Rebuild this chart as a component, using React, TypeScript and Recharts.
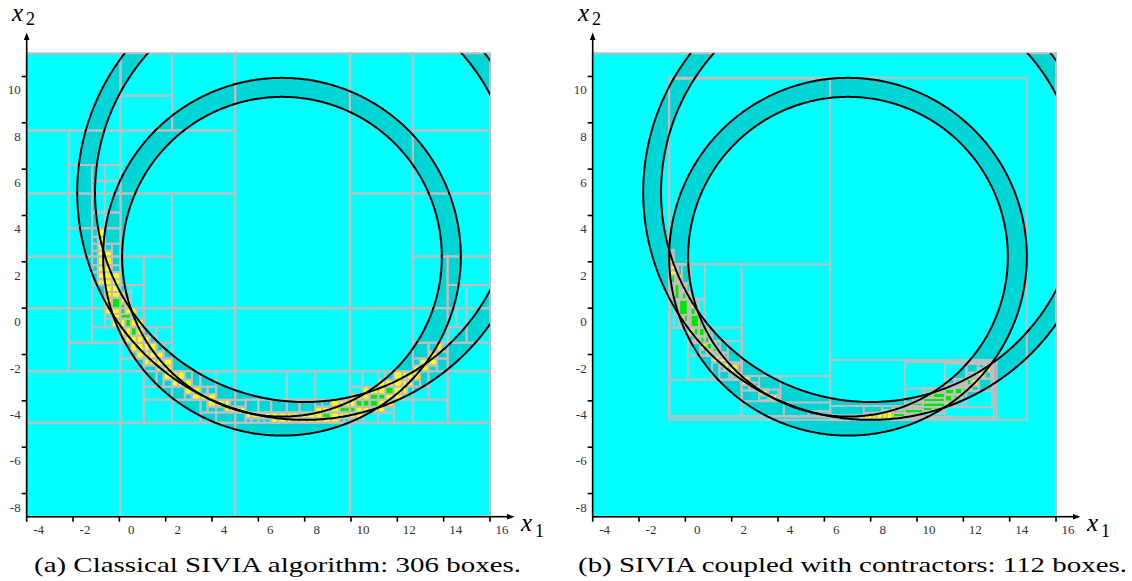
import React from "react";
import { ComposedChart, XAxis, YAxis, ReferenceArea, Scatter } from "recharts";

// window of the paving and axis ticks
const xDomain: [number, number] = [-4, 16];
const yDomain: [number, number] = [-9, 11];
const xTicks = [-4, -2, 0, 2, 4, 6, 8, 10, 12, 14, 16];
const yTicks = [-8, -6, -4, -2, 0, 2, 4, 6, 8, 10];

// the two rings: beacon position and distance interval
const ringCx = [7.02, 8.0];
const ringCy = [2.22, 5.0];
const ringRmin = [6.9, 9.05];
const ringRmax = [7.72, 9.82];

const bisectRatio = 0.45;
const fixpointRatio = 0.1;
const epsilon = 0.4;

const captions = [
  "(a) Classical SIVIA algorithm: 306 boxes.",
  "(b) SIVIA coupled with contractors: 112 boxes.",
];

// layout (pixels)
const PANEL_W = 566;
const H = 581;
const PLOT_L = 26.7;
const PLOT_T = 53.3;
const PLOT_R = 490;
const PLOT_B = 516.7;

const CYAN = "#00ffff";
const RING = "#00d6d6";
const YELLOW = "#ffff00";
const GREEN = "#00e800";
const EDGE = "#bfbfbf";
const FONT = "'Liberation Serif', serif";

type Box = { x0: number; x1: number; y0: number; y1: number };
type Paved = Box & { kind: "out" | "in" | "bnd" };
type Itv = [number, number];

const fullBox = (): Box => ({ x0: xDomain[0], x1: xDomain[1], y0: yDomain[0], y1: yDomain[1] });
const maxDiam = (b: Box) => Math.max(b.x1 - b.x0, b.y1 - b.y0);

function bisect(b: Box): [Box, Box] {
  const w = b.x1 - b.x0;
  const h = b.y1 - b.y0;
  if (w >= h) {
    const m = b.x0 + bisectRatio * w;
    return [{ ...b, x1: m }, { ...b, x0: m }];
  }
  const m = b.y0 + bisectRatio * h;
  return [{ ...b, y1: m }, { ...b, y0: m }];
}

// exact range of the distance to beacon i over a box
function distRange(b: Box, i: number): Itv {
  const cx = ringCx[i], cy = ringCy[i];
  const nx = Math.max(b.x0 - cx, 0, cx - b.x1);
  const ny = Math.max(b.y0 - cy, 0, cy - b.y1);
  const fx = Math.max(Math.abs(b.x0 - cx), Math.abs(b.x1 - cx));
  const fy = Math.max(Math.abs(b.y0 - cy), Math.abs(b.y1 - cy));
  return [Math.hypot(nx, ny), Math.hypot(fx, fy)];
}

function siviaClassic(eps: number): Paved[] {
  const res: Paved[] = [];
  const rec = (b: Box) => {
    let inside = true;
    let outside = false;
    for (let i = 0; i < ringCx.length; i++) {
      const [lo, hi] = distRange(b, i);
      if (hi < ringRmin[i] || lo > ringRmax[i]) outside = true;
      if (lo < ringRmin[i] || hi > ringRmax[i]) inside = false;
    }
    if (outside) res.push({ ...b, kind: "out" });
    else if (inside) res.push({ ...b, kind: "in" });
    else if (maxDiam(b) < eps) res.push({ ...b, kind: "bnd" });
    else {
      const [l, r] = bisect(b);
      rec(l);
      rec(r);
    }
  };
  rec(fullBox());
  return res;
}

// --- forward/backward contractor on  sqrt((x-cx)^2+(y-cy)^2) in [lo,hi]
const meet = (a: Itv, b: Itv): Itv | null => {
  const lo = Math.max(a[0], b[0]);
  const hi = Math.min(a[1], b[1]);
  return lo <= hi ? [lo, hi] : null;
};
const sqrI = (a: Itv): Itv =>
  a[0] >= 0 ? [a[0] * a[0], a[1] * a[1]] : a[1] <= 0 ? [a[1] * a[1], a[0] * a[0]] : [0, Math.max(a[0] * a[0], a[1] * a[1])];
const sqrInv = (y: Itv, x: Itv): Itv | null => {
  const p = Math.sqrt(Math.max(0, y[0]));
  const q = Math.sqrt(Math.max(0, y[1]));
  const pos = meet([p, q], x);
  const neg = meet([-q, -p], x);
  if (pos && neg) return [neg[0], pos[1]];
  return pos || neg;
};

function fwdBwd(b: Box, i: number, lo: number, hi: number): Box | null {
  const cx = ringCx[i], cy = ringCy[i];
  const u: Itv = [b.x0 - cx, b.x1 - cx];
  const v: Itv = [b.y0 - cy, b.y1 - cy];
  const u2 = sqrI(u);
  const v2 = sqrI(v);
  const s: Itv = [u2[0] + v2[0], u2[1] + v2[1]];
  const d = meet([Math.sqrt(s[0]), Math.sqrt(s[1])], [lo, hi]);
  if (!d) return null;
  const s2 = meet(s, [d[0] * d[0], d[1] * d[1]]);
  if (!s2) return null;
  const u2n = meet(u2, [s2[0] - v2[1], s2[1] - v2[0]]);
  if (!u2n) return null;
  const v2n = meet(v2, [s2[0] - u2n[1], s2[1] - u2n[0]]);
  if (!v2n) return null;
  const un = sqrInv(u2n, u);
  const vn = sqrInv(v2n, v);
  if (!un || !vn) return null;
  return { x0: un[0] + cx, x1: un[1] + cx, y0: vn[0] + cy, y1: vn[1] + cy };
}

// both ring constraints, repeated while a pass still shrinks the box by 10%
function contractOut(b: Box): Box | null {
  let c: Box | null = b;
  for (let it = 0; it < 100; it++) {
    const prev: Box = c as Box;
    for (let i = 0; i < ringCx.length && c; i++) c = fwdBwd(c, i, ringRmin[i], ringRmax[i]);
    if (!c) return null;
    const shrink = Math.max(
      1 - (c.x1 - c.x0) / Math.max(prev.x1 - prev.x0, 1e-12),
      1 - (c.y1 - c.y0) / Math.max(prev.y1 - prev.y0, 1e-12)
    );
    if (shrink < fixpointRatio) break;
  }
  return c;
}

// hull of the contractions onto the complement of the set
function contractIn(c: Box): Box | null {
  let h: Box | null = null;
  for (let i = 0; i < ringCx.length; i++) {
    for (const part of [fwdBwd(c, i, -Infinity, ringRmin[i]), fwdBwd(c, i, ringRmax[i], Infinity)]) {
      if (!part) continue;
      h = h
        ? { x0: Math.min(h.x0, part.x0), x1: Math.max(h.x1, part.x1), y0: Math.min(h.y0, part.y0), y1: Math.max(h.y1, part.y1) }
        : part;
    }
  }
  return h;
}

// box difference, x dimension first (like IntervalVector::diff)
function diff(b: Box, c: Box | null): Box[] {
  if (!c) return [b];
  const tol = 1e-12;
  const out: Box[] = [];
  if (c.x0 - b.x0 > tol) out.push({ ...b, x1: c.x0 });
  if (b.x1 - c.x1 > tol) out.push({ ...b, x0: c.x1 });
  const mid = { ...b, x0: c.x0, x1: c.x1 };
  if (c.y0 - b.y0 > tol) out.push({ ...mid, y1: c.y0 });
  if (b.y1 - c.y1 > tol) out.push({ ...mid, y0: c.y1 });
  return out;
}

// every box of the search tree is drawn in cyan once contracted,
// the solution pieces and the small undecided boxes on top of it
function siviaContract(eps: number): Paved[] {
  const res: Paved[] = [{ ...fullBox(), kind: "out" }];
  const rec = (b0: Box) => {
    const c = contractOut(b0);
    if (!c) return;
    res.push({ ...c, kind: "out" });
    const h = contractIn(c);
    diff(c, h).forEach((p) => res.push({ ...p, kind: "in" }));
    if (!h) return;
    if (maxDiam(h) < eps) res.push({ ...h, kind: "bnd" });
    else {
      const [l, r] = bisect(h);
      rec(l);
      rec(r);
    }
  };
  rec(fullBox());
  return res;
}

// ring boundaries sampled for drawing
const STEPS = 720;
function circlePts(i: number, r: number, reverse = false) {
  const pts: { x: number; y: number }[] = [];
  for (let k = 0; k <= STEPS; k++) {
    const t = ((reverse ? STEPS - k : k) / STEPS) * 2 * Math.PI;
    pts.push({ x: ringCx[i] + r * Math.cos(t), y: ringCy[i] + r * Math.sin(t) });
  }
  return pts;
}

const EmptyShape = () => <g />;

const annulusLine = (props: any) => {
  const pts: { x: number; y: number }[] = props.points || [];
  const half = STEPS + 1;
  const part = (a: typeof pts) => a.map((p, k) => `${k ? "L" : "M"}${p.x.toFixed(2)},${p.y.toFixed(2)}`).join("") + "Z";
  return <path d={part(pts.slice(0, half)) + part(pts.slice(half))} fill={RING} stroke="none" fillRule="evenodd" />;
};

const XTick = (p: any) => (
  <text x={p.x + 12} y={p.y + 12.5} textAnchor="middle" fontFamily={FONT} fontSize={13} fill="#333">
    {p.payload.value}
  </text>
);
const YTick = (p: any) => (
  <text x={p.x - 1} y={p.y + 18} textAnchor="end" fontFamily={FONT} fontSize={13} fill="#333">
    {p.payload.value}
  </text>
);

const fillOf = (k: Paved["kind"]) => (k === "out" ? CYAN : k === "in" ? GREEN : YELLOW);

function Panel({ boxes, left }: { boxes: Paved[]; left: number }) {
  const cyanBoxes = boxes.filter((b) => b.kind === "out");
  const solBoxes = boxes.filter((b) => b.kind !== "out");
  return (
    <div style={{ position: "absolute", left, top: 0 }}>
      <ComposedChart
        width={PANEL_W}
        height={H}
        margin={{ top: PLOT_T, left: 0, right: PANEL_W - PLOT_R, bottom: 0 }}
      >
        <XAxis
          type="number"
          dataKey="x"
          domain={xDomain}
          ticks={xTicks}
          interval={0}
          allowDataOverflow
          height={H - PLOT_B}
          tickSize={5}
          tickMargin={0}
          axisLine={{ stroke: "#000", strokeWidth: 1.6 }}
          tickLine={{ stroke: "#000", strokeWidth: 1.6 }}
          tick={XTick}
        />
        <YAxis
          type="number"
          dataKey="y"
          domain={yDomain}
          ticks={yTicks}
          interval={0}
          allowDataOverflow
          width={PLOT_L}
          tickSize={5}
          tickMargin={0}
          axisLine={{ stroke: "#000", strokeWidth: 1.6 }}
          tickLine={{ stroke: "#000", strokeWidth: 1.6 }}
          tick={YTick}
        />
        {cyanBoxes.map((b, k) => (
          <ReferenceArea key={`c${k}`} x1={b.x0} x2={b.x1} y1={b.y0} y2={b.y1} fill={CYAN} fillOpacity={1} stroke="none" ifOverflow="visible" zIndex={1} />
        ))}
        {ringCx.map((_, i) => (
          <Scatter
            key={`ring${i}`}
            data={[...circlePts(i, ringRmax[i]), ...circlePts(i, ringRmin[i], true)]}
            shape={EmptyShape}
            line={annulusLine}
            isAnimationActive={false}
            zIndex={2}
          />
        ))}
        {solBoxes.map((b, k) => (
          <ReferenceArea key={`s${k}`} x1={b.x0} x2={b.x1} y1={b.y0} y2={b.y1} fill={fillOf(b.kind)} fillOpacity={1} stroke="none" ifOverflow="visible" zIndex={3} />
        ))}
        {boxes.map((b, k) => (
          <ReferenceArea key={`e${k}`} x1={b.x0} x2={b.x1} y1={b.y0} y2={b.y1} fill="none" stroke={EDGE} strokeWidth={2} ifOverflow="visible" zIndex={4} />
        ))}
        {ringCx.map((_, i) =>
          [ringRmin[i], ringRmax[i]].map((r, j) => (
            <Scatter
              key={`circ${i}${j}`}
              data={circlePts(i, r)}
              shape={EmptyShape}
              line={{ stroke: "#000", strokeWidth: 2, fill: "none" }}
              lineJointType="linear"
              isAnimationActive={false}
              zIndex={5}
            />
          ))
        )}
      </ComposedChart>
    </div>
  );
}

function Decor({ left, caption, capX, capLen }: { left: number; caption: string; capX: number; capLen: number }) {
  const ax = left + PLOT_L;
  return (
    <g>
      <line x1={ax} y1={PLOT_T} x2={ax} y2={38} stroke="#000" strokeWidth={1.6} />
      <path d={`M${ax},32.5 L${ax - 2.8},40 L${ax + 2.8},40 Z`} fill="#000" />
      <line x1={left + PLOT_R} y1={PLOT_B} x2={left + 508} y2={PLOT_B} stroke="#000" strokeWidth={1.6} />
      <path d={`M${left + 514.5},${PLOT_B} L${left + 507},${PLOT_B - 2.8} L${left + 507},${PLOT_B + 2.8} Z`} fill="#000" />
      <text x={left + 12} y={21} fontFamily={FONT} fontStyle="italic" fontSize={25} fill="#000">x</text>
      <text x={left + 26} y={25} fontFamily={FONT} fontSize={18} fill="#000">2</text>
      <text x={left + 521} y={531} fontFamily={FONT} fontStyle="italic" fontSize={25} fill="#000">x</text>
      <text x={left + 535} y={537} fontFamily={FONT} fontSize={18} fill="#000">1</text>
      <text x={capX} y={572} fontFamily={FONT} fontSize={22} fill="#000" textLength={capLen} lengthAdjust="spacingAndGlyphs">
        {caption}
      </text>
    </g>
  );
}

export default function App() {
  const classic = siviaClassic(epsilon);
  const contracted = siviaContract(epsilon);
  return (
    <div style={{ position: "absolute", left: 0, top: 0, width: 1132, height: H, background: "#fff", overflow: "hidden" }}>
      <Panel boxes={classic} left={0} />
      <Panel boxes={contracted} left={PANEL_W} />
      <svg width={1132} height={H} style={{ position: "absolute", left: 0, top: 0, pointerEvents: "none" }}>
        <Decor left={0} caption={captions[0]} capX={34} capLen={487} />
        <Decor left={PANEL_W} caption={captions[1]} capX={578} capLen={549} />
      </svg>
    </div>
  );
}
